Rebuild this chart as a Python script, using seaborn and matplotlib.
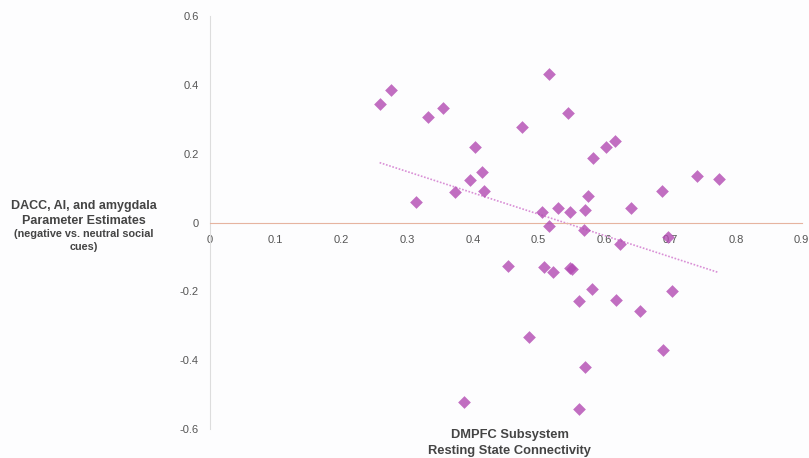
import numpy as np
import pandas as pd
import seaborn as sns
import matplotlib
matplotlib.use("Agg")
import matplotlib.pyplot as plt

# valeurs
connectivite = [0.258, 0.275, 0.331, 0.354, 0.314, 0.373, 0.396, 0.403, 0.413, 0.417,
                0.475, 0.515, 0.505, 0.530, 0.545, 0.547, 0.570, 0.575, 0.583, 0.602,
                0.616, 0.641, 0.688, 0.740, 0.774,
                0.516, 0.569, 0.624, 0.697, 0.453, 0.508, 0.522, 0.547, 0.550, 0.581,
                0.702, 0.561, 0.618, 0.654, 0.485, 0.689, 0.571, 0.386, 0.561]
estimations = [0.344, 0.386, 0.307, 0.332, 0.059, 0.090, 0.125, 0.220, 0.146, 0.092,
               0.278, 0.432, 0.031, 0.042, 0.318, 0.032, 0.036, 0.078, 0.188, 0.220,
               0.237, 0.042, 0.092, 0.134, 0.128,
               -0.010, -0.021, -0.063, -0.041, -0.127, -0.130, -0.143, -0.132, -0.136, -0.193,
               -0.198, -0.227, -0.224, -0.257, -0.332, -0.369, -0.420, -0.520, -0.541]
ticks_x = [0, 0.1, 0.2, 0.3, 0.4, 0.5, 0.6, 0.7, 0.8, 0.9]
ticks_y = [-0.6, -0.4, -0.2, 0, 0.2, 0.4, 0.6]

df = pd.DataFrame({"x": connectivite, "y": estimations})

sns.set_style("white")
plt.rcParams['font.family'] = ['Liberation Sans', 'DejaVu Sans']

fig = plt.figure(figsize=(8.09, 4.58), dpi=100)
fig.patch.set_facecolor("#fdfdfe")
ax = fig.add_axes([0.2596, 0.063, 0.7314, 0.902])
ax.set_facecolor("#fdfdfe")

sns.regplot(data=df, x="x", y="y", ax=ax, ci=None, marker="D",
            scatter_kws={"color": "#b24ab2", "s": 42, "linewidths": 0, "zorder": 3},
            line_kws={"color": "#d98fd6", "linestyle": (0, (1, 1)), "linewidth": 1.2})

ax.set_xlim(0, 0.9)
ax.set_ylim(-0.6, 0.6)
ax.set_xticks(ticks_x)
ax.set_xticklabels(["0" if t == 0 else f"{t:g}" for t in ticks_x])
ax.set_yticks(ticks_y)
ax.set_yticklabels(["0" if t == 0 else f"{t:g}" for t in ticks_y])
ax.tick_params(length=0, labelsize=8, colors="#555555", pad=8)
ax.tick_params(axis="x", pad=9)

ax.spines['bottom'].set_position(('data', 0))
ax.spines['bottom'].set_color("#e6b4a0")
ax.spines['left'].set_color("#dddddd")
ax.spines['top'].set_visible(False)
ax.spines['right'].set_visible(False)
ax.set_xlabel("")
ax.set_ylabel("")

fig.text(0.104, 0.505, "DACC, AI, and amygdala\nParameter Estimates",
         ha="center", va="bottom", fontsize=9, fontweight="bold", color="#444444",
         linespacing=1.3)
fig.text(0.104, 0.50, "(negative vs. neutral social\ncues)",
         ha="center", va="top", fontsize=7.8, fontweight="bold", color="#444444",
         linespacing=1.35)
fig.text(0.630, 0.002, "DMPFC Subsystem\nResting State Connectivity",
         ha="center", va="bottom", fontsize=9.3, fontweight="bold", color="#444444",
         linespacing=1.4)

fig.savefig("out.png", dpi=100, facecolor=fig.get_facecolor())
